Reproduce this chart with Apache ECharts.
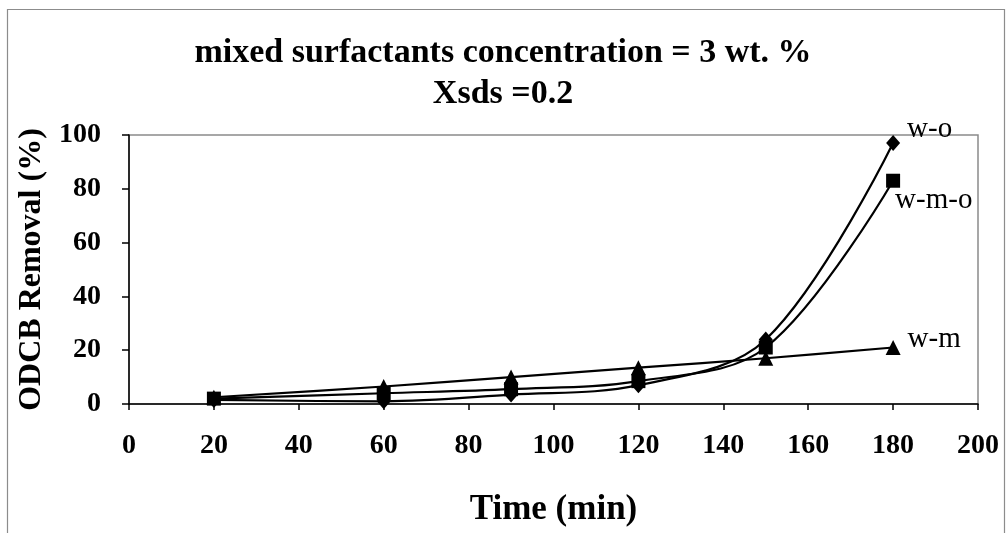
<!DOCTYPE html>
<html>
<head>
<meta charset="utf-8">
<script src="https://cdn.jsdelivr.net/npm/echarts@6/dist/echarts.min.js"></script>
<style>
  html, body { margin: 0; padding: 0; background: #fff; }
  #chart { width: 1006px; height: 533px; }
</style>
</head>
<body>
<div id="chart"></div>
<script>
// Sampling times (min)
const timeMin = [20, 60, 90, 120, 150, 180];
// ODCB removal (%) per system
const removalWO = [1.5, 1, 3.5, 7, 24, 97];
const removalWMO = [2, 4, 5.5, 8.5, 21, 83];
const removalWM = [2.5, 6.5, 10, 13.5, 17, 21];
// Axis ticks
const xTicks = [0, 20, 40, 60, 80, 100, 120, 140, 160, 180, 200];
const yTicks = [0, 20, 40, 60, 80, 100];

const serif = '"Liberation Serif", "Times New Roman", serif';

function pairs(values, labelStyle) {
  return values.map((v, i) => {
    const item = { value: [timeMin[i], v] };
    if (i === values.length - 1) item.label = Object.assign({ show: true, formatter: '{a}' }, labelStyle);
    return item;
  });
}

const labelFont = { fontFamily: serif, fontSize: 29, color: '#000' };

const chart = echarts.init(document.getElementById('chart'));
chart.setOption({
  animation: false,
  backgroundColor: '#fff',
  graphic: [{
    type: 'rect', left: 5, top: 7, z: -1,
    shape: { width: 997, height: 540 },
    style: { fill: 'none', stroke: '#8c8c8c', lineWidth: 1.2 }
  }],
  title: {
    text: 'mixed surfactants concentration = 3 wt. %\nXsds =0.2',
    left: 'center', top: 28,
    textStyle: { fontFamily: serif, fontWeight: 'bold', fontSize: 34, lineHeight: 41, color: '#000' }
  },
  grid: {
    left: 129, right: 28, top: 135, bottom: 129,
    show: true, borderColor: '#8a8a8a', borderWidth: 1.5, backgroundColor: 'transparent'
  },
  xAxis: {
    type: 'value', min: xTicks[0], max: xTicks[xTicks.length - 1], interval: 20,
    name: 'Time (min)', nameLocation: 'middle', nameGap: 88,
    nameTextStyle: { fontFamily: serif, fontWeight: 'bold', fontSize: 35, color: '#000' },
    axisLine: { lineStyle: { color: '#000', width: 1.5 } },
    axisTick: { show: true, inside: false, length: 6, lineStyle: { color: '#000', width: 1.5 } },
    splitLine: { show: false },
    axisLabel: { fontFamily: serif, fontWeight: 'bold', fontSize: 28, color: '#000', margin: 28,
      showMaxLabel: true, showMinLabel: true }
  },
  yAxis: {
    type: 'value', min: yTicks[0], max: yTicks[yTicks.length - 1], interval: 20,
    name: 'ODCB Removal (%)', nameLocation: 'middle', nameGap: 71, nameRotate: 90,
    nameTextStyle: { fontFamily: serif, fontWeight: 'bold', fontSize: 32, color: '#000' },
    axisLine: { show: true, lineStyle: { color: '#000', width: 1.5 } },
    axisTick: { show: true, inside: false, length: 7, lineStyle: { color: '#000', width: 1.5 } },
    splitLine: { show: false },
    axisLabel: { fontFamily: serif, fontWeight: 'bold', fontSize: 28, color: '#000', margin: 28 }
  },
  series: [
    {
      name: 'w-o', type: 'line', smooth: 0.35,
      symbol: 'diamond', symbolSize: [14, 16],
      lineStyle: { color: '#000', width: 2.2 }, itemStyle: { color: '#000' },
      data: pairs(removalWO, Object.assign({ position: 'right', offset: [2, -14] }, labelFont))
    },
    {
      name: 'w-m-o', type: 'line', smooth: 0.35,
      symbol: 'rect', symbolSize: 14,
      lineStyle: { color: '#000', width: 2.2 }, itemStyle: { color: '#000' },
      data: pairs(removalWMO, Object.assign({ position: 'right', offset: [-10, 20] }, labelFont))
    },
    {
      name: 'w-m', type: 'line', smooth: 0.35,
      symbol: 'triangle', symbolSize: 15,
      lineStyle: { color: '#000', width: 2.2 }, itemStyle: { color: '#000' },
      data: pairs(removalWM, Object.assign({ position: 'right', offset: [2, -8] }, labelFont))
    }
  ]
});
</script>
</body>
</html>
